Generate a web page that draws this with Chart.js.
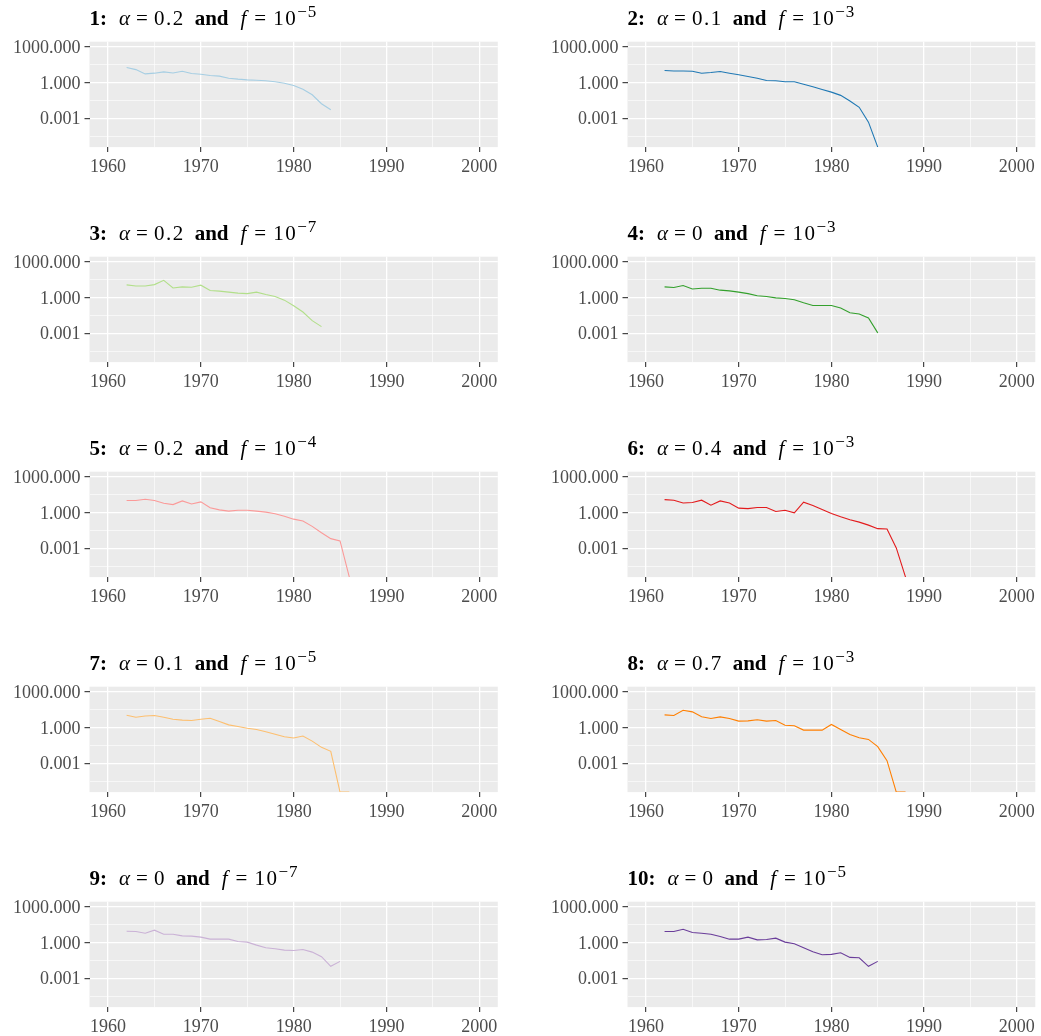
<!DOCTYPE html>
<html>
<head>
<meta charset="utf-8">
<script src="https://cdn.jsdelivr.net/npm/chart.js@4/dist/chart.umd.min.js"></script>
<style>
  html, body { margin: 0; padding: 0; background: #ffffff; }
  #wrap { position: relative; width: 1041px; height: 1036px; background: #ffffff; overflow: hidden; }
  canvas { position: absolute; }
  .ttl { position: absolute; font-family: "Liberation Serif", serif; font-size: 21px; line-height: 21px; color: #000; white-space: nowrap; }
  .ttl span { display: inline-block; }
  .ttl b { font-weight: bold; display: inline-block; }
  .ttl i { font-style: italic; display: inline-block; }
  .ttl .num { letter-spacing: 1.5px; }
  .ttl .sup { font-size: 17px; position: relative; top: -8px; letter-spacing: 1px; }
</style>
</head>
<body>
<div id="wrap"></div>
<script>
// ---- data ----
const years = [1962,1963,1964,1965,1966,1967,1968,1969,1970,1971,1972,1973,1974,1975,1976,1977,1978,1979,1980,1981,1982,1983,1984,1985,1986,1987,1988];

const s1 = [17.8,12.0,5.25,6.03,7.76,6.31,8.71,5.62,4.9,3.8,3.39,2.29,1.91,1.66,1.55,1.38,1.15,0.87,0.56,0.275,0.093,0.0166,0.0052];
const s2 = [10,9.3,9.3,8.7,6.0,6.8,8.3,6.0,4.4,3.2,2.3,1.48,1.38,1.15,1.15,0.72,0.44,0.26,0.155,0.083,0.0275,0.0083,0.00047,3.8e-6];
const s3 = [11.4,9.3,9.3,12,27.5,6.3,7.8,7.2,10.7,3.8,3.4,2.8,2.3,2.1,2.8,1.78,1.2,0.6,0.2,0.06,0.0115,0.0036];
const s4 = [7.8,6.8,10,5.2,6.0,6.0,4.1,3.6,2.8,2.1,1.38,1.2,0.93,0.83,0.64,0.36,0.215,0.215,0.215,0.13,0.052,0.041,0.019,0.00107];
const s5 = [10,10,12.9,10,6.0,4.6,9.3,5.2,7.8,2.45,1.66,1.29,1.55,1.55,1.29,1.07,0.78,0.49,0.275,0.19,0.068,0.020,0.0064,0.0041,3.8e-6];
const s6 = [12,10.7,6.3,6.8,10.7,4.1,9.3,6.3,2.3,2.1,2.6,2.6,1.2,1.55,0.93,7.2,3.8,1.78,0.83,0.44,0.245,0.155,0.087,0.044,0.041,0.00107,3.8e-6];
const s7 = [10.7,7.2,9.3,10,7.2,4.9,4.1,3.8,4.9,6.0,3.2,1.66,1.2,0.87,0.68,0.44,0.275,0.166,0.13,0.19,0.072,0.0215,0.01,3.8e-6,3.8e-6];
const s8 = [11.4,10,27.5,20.4,7.8,5.6,7.8,5.6,3.4,3.6,4.4,3.4,3.8,1.55,1.38,0.6,0.6,0.6,1.78,0.68,0.26,0.138,0.1,0.0245,0.00166,3.8e-6,3.8e-6];
const s9 = [8.7,8.3,6.0,10.7,4.9,4.9,3.6,3.4,2.8,1.9,1.9,1.9,1.2,1.07,0.6,0.36,0.295,0.23,0.215,0.26,0.155,0.064,0.01,0.026];
const s10 = [8.3,8.3,12.9,6.8,6.0,4.9,3.2,1.9,1.9,2.8,1.66,1.78,2.3,1.07,0.78,0.36,0.166,0.093,0.1,0.138,0.056,0.052,0.01,0.026];

const seriesList = [s1,s2,s3,s4,s5,s6,s7,s8,s9,s10];
const panelNums = ['1','2','3','4','5','6','7','8','9','10'];
const alphas = ['0.2','0.1','0.2','0','0.2','0.4','0.1','0.7','0','0'];
const fExps = ['\u22125','\u22123','\u22127','\u22123','\u22124','\u22123','\u22125','\u22123','\u22127','\u22125'];
const colors = ['#A6CEE3','#1F78B4','#B2DF8A','#33A02C','#FB9A99','#E31A1C','#FDBF6F','#FF7F00','#CAB2D6','#6A3D9A'];

const xTicks = [1960,1965,1970,1975,1980,1985,1990,1995,2000];
const xMajor = [1960,1970,1980,1990,2000];
const yTicks = [Math.pow(10,-4.5), 0.001, Math.pow(10,-1.5), 1, Math.pow(10,1.5), 1000];
const yMajor = [0.001, 1, 1000];
const yLabels = ['0.001','1.000','1000.000'];

// ---- layout ----
const X_MIN = 1958, X_MAX = 2002;
const Y_MIN = Math.pow(10,-5.42), Y_MAX = Math.pow(10,3.42);
const colGeom = [
  {canvasLeft: 0, canvasWidth: 510, plotLeft: 89.5, plotRight: 497.8},
  {canvasLeft: 520, canvasWidth: 521, plotLeft: 627.5, plotRight: 1035.3}
];
const ROW_STEP = 215, PLOT_TOP0 = 41.7, PLOT_H = 105.4, CANVAS_H = 152;

const majYIndex = v => yMajor.findIndex(m => Math.abs(Math.log10(v) - Math.log10(m)) < 1e-6);
const isMajY = v => majYIndex(v) >= 0;
const isMajX = v => xMajor.includes(v);

const bgPlugin = {
  id: 'panelBg',
  beforeDraw(chart) {
    const a = chart.chartArea, c = chart.ctx;
    c.save();
    c.fillStyle = '#EBEBEB';
    c.fillRect(a.left, a.top, a.right - a.left, a.bottom - a.top);
    c.restore();
  }
};

const wrap = document.getElementById('wrap');

seriesList.forEach((vals, i) => {
  const row = Math.floor(i / 2), col = i % 2;
  const g = colGeom[col];
  const plotTop = PLOT_TOP0 + ROW_STEP * row;
  const canvasTop = Math.floor(plotTop - 16);
  const padTop = plotTop - canvasTop;
  const yW = g.plotLeft - g.canvasLeft;
  const padRight = (g.canvasLeft + g.canvasWidth) - g.plotRight;
  const xH = CANVAS_H - padTop - PLOT_H;

  const cv = document.createElement('canvas');
  cv.width = g.canvasWidth; cv.height = CANVAS_H;
  cv.style.left = g.canvasLeft + 'px'; cv.style.top = canvasTop + 'px';
  cv.style.width = g.canvasWidth + 'px'; cv.style.height = CANVAS_H + 'px';
  wrap.appendChild(cv);

  const ttl = document.createElement('div');
  ttl.className = 'ttl';
  ttl.style.left = g.plotLeft + 'px';
  ttl.style.top = (plotTop - 16 - 17.6) + 'px';
  ttl.innerHTML = '<b>' + panelNums[i] + ':</b>' +
    '<i style="margin-left:12px">\u03B1</i>' +
    '<span style="margin-left:6px">=</span>' +
    '<span class="num" style="margin-left:6px">' + alphas[i] + '</span>' +
    '<b style="margin-left:10px">and</b>' +
    '<i style="margin-left:12px">f</i>' +
    '<span style="margin-left:8px">=</span>' +
    '<span class="num" style="margin-left:7px">10</span>' +
    '<span class="sup">' + fExps[i] + '</span>';
  wrap.appendChild(ttl);

  const tickFont = {family: 'Liberation Serif', size: 18};

  new Chart(cv, {
    type: 'line',
    data: {
      datasets: [{
        data: vals.map((v, k) => ({x: years[k], y: v})),
        borderColor: colors[i],
        borderWidth: 1.1,
        pointRadius: 0,
        pointHoverRadius: 0,
        tension: 0,
        fill: false,
        clip: 0
      }]
    },
    options: {
      responsive: false,
      animation: false,
      devicePixelRatio: 1,
      events: [],
      layout: {padding: {top: padTop, right: padRight, left: 0, bottom: 0}},
      plugins: {legend: {display: false}, tooltip: {enabled: false}, title: {display: false}},
      scales: {
        x: {
          type: 'linear',
          min: X_MIN, max: X_MAX,
          bounds: 'data',
          afterBuildTicks: s => { s.ticks = xTicks.map(v => ({value: v})); },
          afterFit: s => { s.height = xH; },
          border: {display: false},
          grid: {
            color: '#FFFFFF',
            lineWidth: c => (c.tick && isMajX(c.tick.value)) ? 1.3 : 0.6,
            tickColor: c => (c.tick && isMajX(c.tick.value)) ? '#333333' : 'rgba(0,0,0,0)',
            tickLength: 5,
            tickWidth: 1.1,
            drawTicks: true
          },
          ticks: {
            autoSkip: false, maxRotation: 0, minRotation: 0,
            padding: 4,
            color: '#4D4D4D',
            font: tickFont,
            callback: v => isMajX(v) ? String(v) : ''
          }
        },
        y: {
          type: 'logarithmic',
          min: Y_MIN, max: Y_MAX,
          bounds: 'data',
          afterBuildTicks: s => { s.ticks = yTicks.map(v => ({value: v})); },
          afterFit: s => { s.width = yW; },
          border: {display: false},
          grid: {
            color: '#FFFFFF',
            lineWidth: c => (c.tick && isMajY(c.tick.value)) ? 1.3 : 0.6,
            tickColor: c => (c.tick && isMajY(c.tick.value)) ? '#333333' : 'rgba(0,0,0,0)',
            tickLength: 5,
            tickWidth: 1.1,
            drawTicks: true
          },
          ticks: {
            autoSkip: false,
            padding: 4,
            labelOffset: 1.5,
            color: '#4D4D4D',
            font: tickFont,
            callback: v => {
              const k = majYIndex(v);
              return k >= 0 ? yLabels[k] : '';
            }
          }
        }
      }
    },
    plugins: [bgPlugin]
  });
});
</script>
</body>
</html>
